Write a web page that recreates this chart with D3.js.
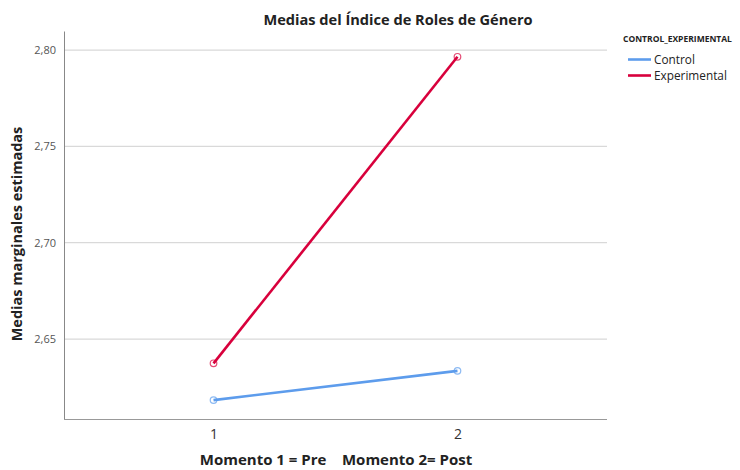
<!DOCTYPE html>
<html>
<head>
<meta charset="utf-8">
<script src="https://d3js.org/d3.v7.min.js"></script>
<style>
  body { margin: 0; background: #fff; }
  text { font-family: "Open Sans", "Noto Sans", sans-serif; }
</style>
</head>
<body>
<svg id="chart"></svg>
<script>
// data
const momentos = ['1', '2'];
const grupos = ['Control', 'Experimental'];
const controlValues = [2.6183, 2.6335];
const experimentalValues = [2.6374, 2.7965];
const yTicks = [2.65, 2.70, 2.75, 2.80];
const colors = ['#5d9cec', '#d8003c'];

const width = 740, height = 470;
const margin = { top: 31, right: 133, bottom: 51, left: 64 };

const svg = d3.select('#chart')
  .attr('width', width)
  .attr('height', height);

const innerW = width - margin.left - margin.right;
const innerH = height - margin.top - margin.bottom;

const chart = svg.append('g')
  .attr('transform', `translate(${margin.left},${margin.top})`);

const x = d3.scalePoint()
  .domain(momentos)
  .range([0, innerW])
  .padding(0.613);

const y = d3.scaleLinear()
  .domain([2.6085, 2.8099])
  .range([innerH, 0]);

// horizontal grid lines
chart.selectAll('.grid')
  .data(yTicks)
  .join('line')
  .attr('class', 'grid')
  .attr('x1', 0)
  .attr('x2', innerW)
  .attr('y1', d => y(d))
  .attr('y2', d => y(d))
  .attr('stroke', '#d9d9d9')
  .attr('stroke-width', 1.2);

// y axis
const yAxis = chart.append('g')
  .call(d3.axisLeft(y).tickValues(yTicks).tickSize(0).tickPadding(8)
    .tickFormat(d => d3.format('.2f')(d).replace('.', ',')));
yAxis.select('.domain').attr('stroke', '#888');
yAxis.selectAll('text').attr('fill', '#555').style('font-size', '11px');

// x axis
const xAxis = chart.append('g')
  .attr('transform', `translate(0,${innerH})`)
  .call(d3.axisBottom(x).tickSize(0).tickPadding(10));
xAxis.select('.domain').attr('stroke', '#999').attr('stroke-width', 1.2)
  .attr('d', `M0,0.5H${innerW}`);
xAxis.selectAll('text').attr('fill', '#333').style('font-size', '14px');

// lines
const series = [controlValues, experimentalValues];
const line = d3.line()
  .x((d, i) => x(momentos[i]))
  .y(d => y(d));

series.forEach((vals, si) => {
  chart.append('path')
    .datum(vals)
    .attr('d', line)
    .attr('fill', 'none')
    .attr('stroke', colors[si])
    .attr('stroke-width', 2.6);

  chart.selectAll(`.pt${si}`)
    .data(vals)
    .join('circle')
    .attr('class', `pt${si}`)
    .attr('cx', (d, i) => x(momentos[i]))
    .attr('cy', d => y(d))
    .attr('r', 3.3)
    .attr('fill', 'none')
    .attr('stroke', colors[si])
    .attr('stroke-opacity', 0.7)
    .attr('stroke-width', 1.2);
});

// title
svg.append('text')
  .attr('x', 398)
  .attr('y', 25)
  .attr('text-anchor', 'middle')
  .style('font-size', '14.6px')
  .style('font-weight', 'bold')
  .attr('fill', '#222')
  .text('Medias del Índice de Roles de Género');

// axis titles
svg.append('text')
  .attr('x', 336)
  .attr('y', 465)
  .attr('text-anchor', 'middle')
  .style('font-size', '15px')
  .style('font-weight', 'bold')
  .attr('fill', '#222')
  .attr('xml:space', 'preserve')
  .style('white-space', 'pre')
  .text('Momento 1 = Pre    Momento 2= Post');

svg.append('text')
  .attr('transform', 'translate(22,234) rotate(-90)')
  .attr('text-anchor', 'middle')
  .style('font-size', '14.5px')
  .style('font-weight', 'bold')
  .attr('fill', '#222')
  .text('Medias marginales estimadas');

// legend
const legend = svg.append('g').attr('transform', 'translate(623,42)');
legend.append('text')
  .attr('x', 0)
  .attr('y', 0)
  .style('font-size', '8.5px')
  .style('font-weight', 'bold')
  .attr('fill', '#222')
  .text('CONTROL_EXPERIMENTAL');

const items = legend.selectAll('.item')
  .data(grupos)
  .join('g')
  .attr('class', 'item')
  .attr('transform', (d, i) => `translate(5,${17.5 + i * 16})`);
items.append('line')
  .attr('x1', 0).attr('x2', 23)
  .attr('stroke', (d, i) => colors[i])
  .attr('stroke-width', 2.6);
items.append('text')
  .attr('x', 26)
  .attr('y', 4.3)
  .style('font-size', '11.8px')
  .attr('fill', '#222')
  .text(d => d);
</script>
</body>
</html>
